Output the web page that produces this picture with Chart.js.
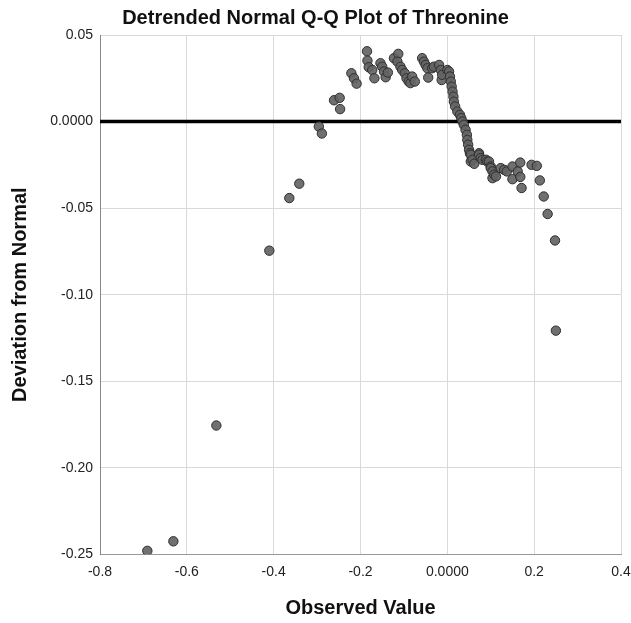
<!DOCTYPE html>
<html>
<head>
<meta charset="utf-8">
<title>Detrended Normal Q-Q Plot of Threonine</title>
<script src="https://cdn.jsdelivr.net/npm/chart.js@4.4.0/dist/chart.umd.min.js"></script>
<style>
  body { margin: 0; background: #fff; }
  #qq { display: block; }
</style>
</head>
<body>
<canvas id="qq" width="631" height="623"></canvas>
<script>
var observedValues = [
  -0.691, -0.631, -0.532, -0.410, -0.364, -0.341, -0.296, -0.289, -0.261, -0.248,
  -0.247, -0.221, -0.215, -0.209, -0.185, -0.184, -0.181, -0.173, -0.168, -0.154,
  -0.150, -0.146, -0.142, -0.137, -0.123, -0.113, -0.115, -0.108, -0.104, -0.098,
  -0.094, -0.089, -0.085, -0.081, -0.075, -0.058, -0.054, -0.050, -0.046, -0.044,
  -0.035, -0.031, -0.019, -0.015, -0.013, -0.012, 0.000, 0.004, 0.006, 0.008,
  0.010, 0.012, 0.014, 0.015, 0.018, 0.023, 0.029, 0.032, 0.035, 0.038,
  0.042, 0.045, 0.046, 0.048, 0.050, 0.052, 0.054, 0.054, 0.058, 0.062,
  0.073, 0.073, 0.077, 0.081, 0.089, 0.092, 0.096, 0.100, 0.100, 0.104,
  0.104, 0.108, 0.112, 0.123, 0.131, 0.137, 0.150, 0.150, 0.162, 0.168,
  0.168, 0.171, 0.194, 0.206, 0.213, 0.222, 0.231, 0.248, 0.250
];
var deviations = [
  -0.2480, -0.2425, -0.1756, -0.0746, -0.0442, -0.0359, -0.0029, -0.0069, 0.0123, 0.0137,
  0.0072, 0.0279, 0.0250, 0.0219, 0.0406, 0.0352, 0.0314, 0.0298, 0.0250, 0.0337,
  0.0317, 0.0289, 0.0256, 0.0283, 0.0366, 0.0391, 0.0346, 0.0317, 0.0298, 0.0279,
  0.0250, 0.0231, 0.0222, 0.0260, 0.0231, 0.0366, 0.0346, 0.0327, 0.0308, 0.0254,
  0.0308, 0.0317, 0.0327, 0.0298, 0.0240, 0.0270, 0.0298, 0.0289, 0.0260, 0.0231,
  0.0202, 0.0173, 0.0144, 0.0115, 0.0087, 0.0058, 0.0039, 0.0020, 0.0000, -0.0019,
  -0.0048, -0.0077, -0.0106, -0.0134, -0.0163, -0.0183, -0.0192, -0.0231, -0.0221, -0.0244,
  -0.0183, -0.0192, -0.0211, -0.0221, -0.0221, -0.0231, -0.0231, -0.0260, -0.0269, -0.0288,
  -0.0327, -0.0307, -0.0317, -0.0269, -0.0279, -0.0288, -0.0260, -0.0333, -0.0288, -0.0237,
  -0.0320, -0.0384, -0.0250, -0.0256, -0.0340, -0.0433, -0.0534, -0.0687, -0.1208
];
var xTickLabels = ["-0.8", "-0.6", "-0.4", "-0.2", "0.0000", "0.2", "0.4"];
var yTickLabels = ["0.05", "0.0000", "-0.05", "-0.10", "-0.15", "-0.20", "-0.25"];
var referenceLine = [{x: -0.8, y: 0}, {x: 0.4, y: 0}];

var points = observedValues.map(function(v, i){
    return {x: v, y: deviations[i]};
});

var ctx = document.getElementById("qq").getContext("2d");
Chart.defaults.font.family = "'Liberation Sans', Arial, sans-serif";
Chart.defaults.color = "#222";

var qqChart = new Chart(ctx, {
    type: 'scatter',
    data: {
        datasets: [{
            type: 'line',
            label: 'zero',
            data: referenceLine,
            borderColor: '#000',
            borderWidth: 3.5,
            pointRadius: 0,
            order: 2
        }, {
            label: 'Threonine',
            data: points,
            backgroundColor: 'rgba(100,100,100,0.92)',
            borderColor: '#2e2e2e',
            borderWidth: 1,
            pointRadius: 4.7,
            order: 1
        }]
    },
    options: {
        responsive: false,
        animation: false,
        layout: { padding: { left: 0, right: 0, top: 0, bottom: 0 } },
        plugins: {
            legend: { display: false },
            tooltip: { enabled: false },
            title: {
                display: true,
                text: 'Detrended Normal Q-Q Plot of Threonine',
                color: '#111',
                font: { size: 20, weight: 'bold' },
                padding: { top: 6, bottom: 5 }
            }
        },
        scales: {
            x: {
                type: 'linear',
                min: -0.8,
                max: 0.4,
                afterFit: function(scale){
                    scale.height = 68.7;
                    scale.paddingLeft = 0;
                    scale.paddingRight = 10;
                },
                border: { color: '#999', width: 1 },
                grid: { color: '#d9d9d9', drawTicks: false },
                ticks: {
                    stepSize: 0.2,
                    padding: 9,
                    font: { size: 14 },
                    callback: function(value, index){ return xTickLabels[index]; }
                },
                title: {
                    display: true,
                    text: 'Observed Value',
                    color: '#111',
                    font: { size: 20, weight: 'bold' },
                    padding: { top: 0, bottom: 3 }
                }
            },
            y: {
                type: 'linear',
                min: -0.25,
                max: 0.05,
                afterFit: function(scale){ scale.width = 100; },
                border: { color: '#888', width: 1 },
                grid: { color: '#d9d9d9', drawTicks: false },
                ticks: {
                    stepSize: 0.05,
                    padding: 7,
                    font: { size: 14 },
                    callback: function(value, index, ticks){
                        return yTickLabels[ticks.length - 1 - index];
                    }
                },
                title: {
                    display: true,
                    text: 'Deviation from Normal',
                    color: '#111',
                    font: { size: 20, weight: 'bold' },
                    padding: { top: 8, bottom: 0 }
                }
            }
        }
    }
});
</script>
</body>
</html>
